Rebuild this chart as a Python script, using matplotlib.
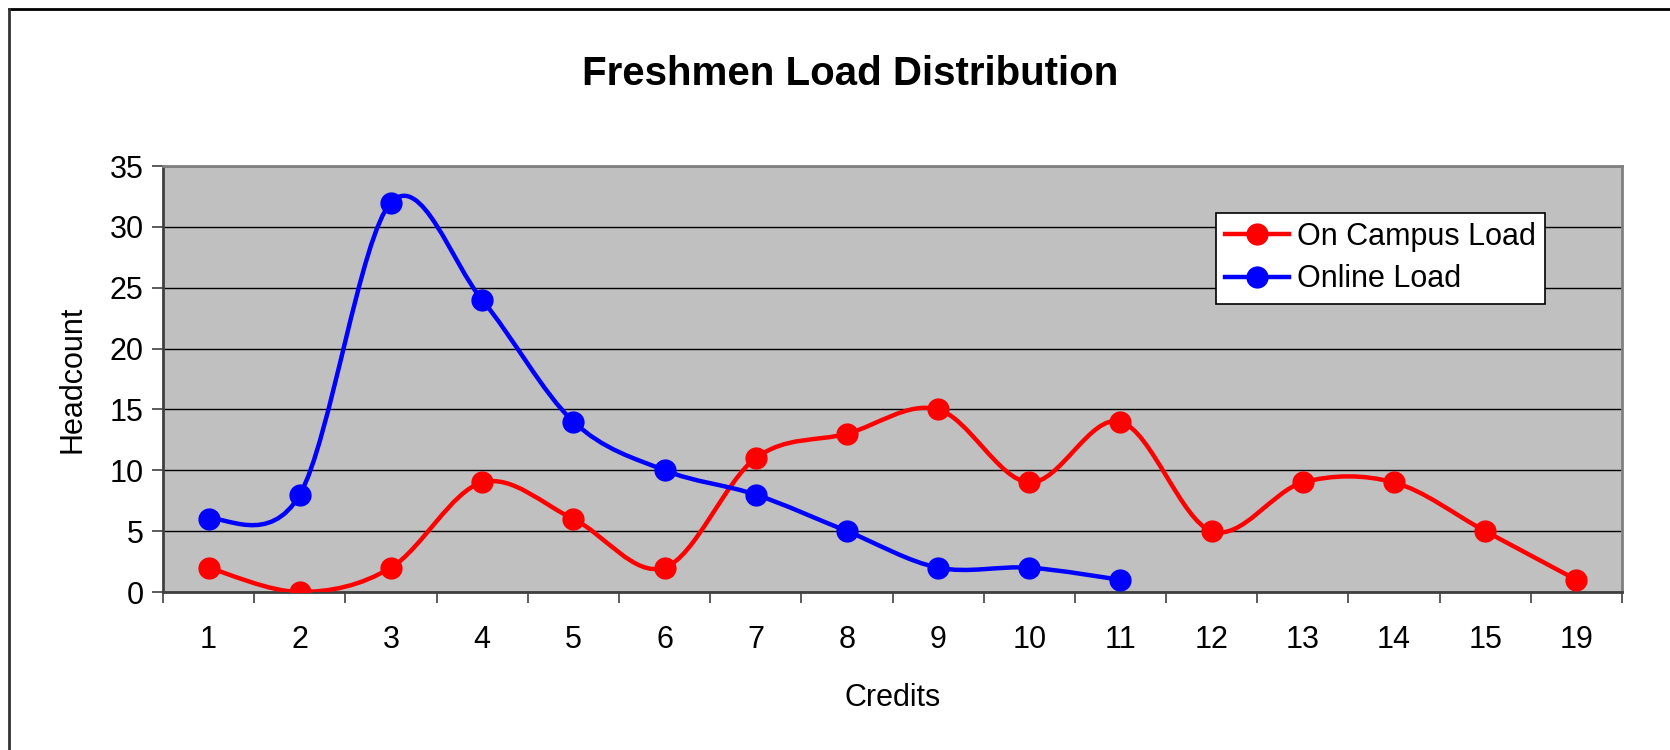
import numpy as np
import matplotlib.pyplot as plt
from matplotlib.path import Path
from matplotlib.patches import PathPatch
from matplotlib.lines import Line2D

plt.rcParams['font.family'] = ['Liberation Sans', 'DejaVu Sans']

# data
credits = ['1', '2', '3', '4', '5', '6', '7', '8', '9', '10', '11', '12', '13', '14', '15', '19']
on_campus = [2, 0, 2, 9, 6, 2, 11, 13, 15, 9, 14, 5, 9, 9, 5, 1]
online = [6, 8, 32, 24, 14, 10, 8, 5, 2, 2, 1]

RED = '#FF0000'
BLUE = '#0000FF'


def smooth_path(xs, ys):
    # Excel-style smoothed line: cubic Bezier segments (Catmull-Rom control points)
    pts = np.column_stack([xs, ys]).astype(float)
    n = len(pts)
    verts = [pts[0]]
    codes = [Path.MOVETO]
    for i in range(n - 1):
        p0 = pts[i - 1] if i > 0 else pts[i]
        p1 = pts[i]
        p2 = pts[i + 1]
        p3 = pts[i + 2] if i + 2 < n else pts[i + 1]
        c1 = p1 + (p2 - p0) / 6.0
        c2 = p2 - (p3 - p1) / 6.0
        verts += [c1, c2, p2]
        codes += [Path.CURVE4] * 3
    return Path(verts, codes)


fig = plt.figure(figsize=(16.7, 7.5), dpi=100)
ax = fig.add_axes([163 / 1670, 1 - 592 / 750, (1622 - 163) / 1670, (592 - 166) / 750])
ax.set_facecolor('#C0C0C0')

for vals, col in [(on_campus, RED), (online, BLUE)]:
    x = np.arange(len(vals))
    ax.add_patch(PathPatch(smooth_path(x, vals), facecolor='none', edgecolor=col,
                           lw=3.2, zorder=3, capstyle='round', joinstyle='round'))
    ax.plot(x, vals, linestyle='none', marker='o', ms=15, color=col, zorder=4)

ax.set_xlim(-0.5, len(credits) - 0.5)
ax.set_ylim(0, 35)
ax.set_yticks(range(0, 36, 5))
ax.set_xticks(np.arange(len(credits)))
ax.set_xticklabels(credits)
ax.set_xticks(np.arange(len(credits) + 1) - 0.5, minor=True)
ax.tick_params(axis='x', which='major', length=0, pad=24, labelsize=22)
ax.tick_params(axis='x', which='minor', length=8, width=1.2, color='#404040')
ax.tick_params(axis='y', length=8, width=1.2, color='#404040', pad=6, labelsize=22)
ax.yaxis.grid(True, color='black', lw=1)
ax.set_axisbelow(True)

for s in ['top', 'right']:
    ax.spines[s].set_color('#808080')
    ax.spines[s].set_linewidth(2)
for s in ['left', 'bottom']:
    ax.spines[s].set_color('#404040')
    ax.spines[s].set_linewidth(2)

ax.set_xlabel('Credits', fontsize=22, labelpad=20)
ax.set_ylabel('Headcount', fontsize=22, labelpad=16)

handles = [Line2D([], [], color=RED, lw=3.2, marker='o', ms=15),
           Line2D([], [], color=BLUE, lw=3.2, marker='o', ms=15)]
leg = ax.legend(handles, ['On Campus Load', 'Online Load'], loc='upper left',
                bbox_to_anchor=((1216 - 163) / 1459, 1 - (213 - 166) / 426),
                fontsize=22, frameon=True, fancybox=False, borderpad=0.3,
                handlelength=2.1, handletextpad=0.25, labelspacing=0.4, borderaxespad=0)
leg.get_frame().set_facecolor('white')
leg.get_frame().set_alpha(1)
leg.get_frame().set_edgecolor('black')
leg.get_frame().set_linewidth(1.2)

fig.text(850 / 1670, 1 - 74 / 750, 'Freshmen Load Distribution', fontsize=29,
         fontweight='bold', ha='center', va='center')

# outer frame: top and left only
fig.add_artist(Line2D([9 / 1670, 1], [1 - 9 / 750, 1 - 9 / 750], color='black', lw=2))
fig.add_artist(Line2D([9 / 1670, 9 / 1670], [0, 1 - 9 / 750], color='#333333', lw=2))

fig.savefig('out.png', dpi=100)
